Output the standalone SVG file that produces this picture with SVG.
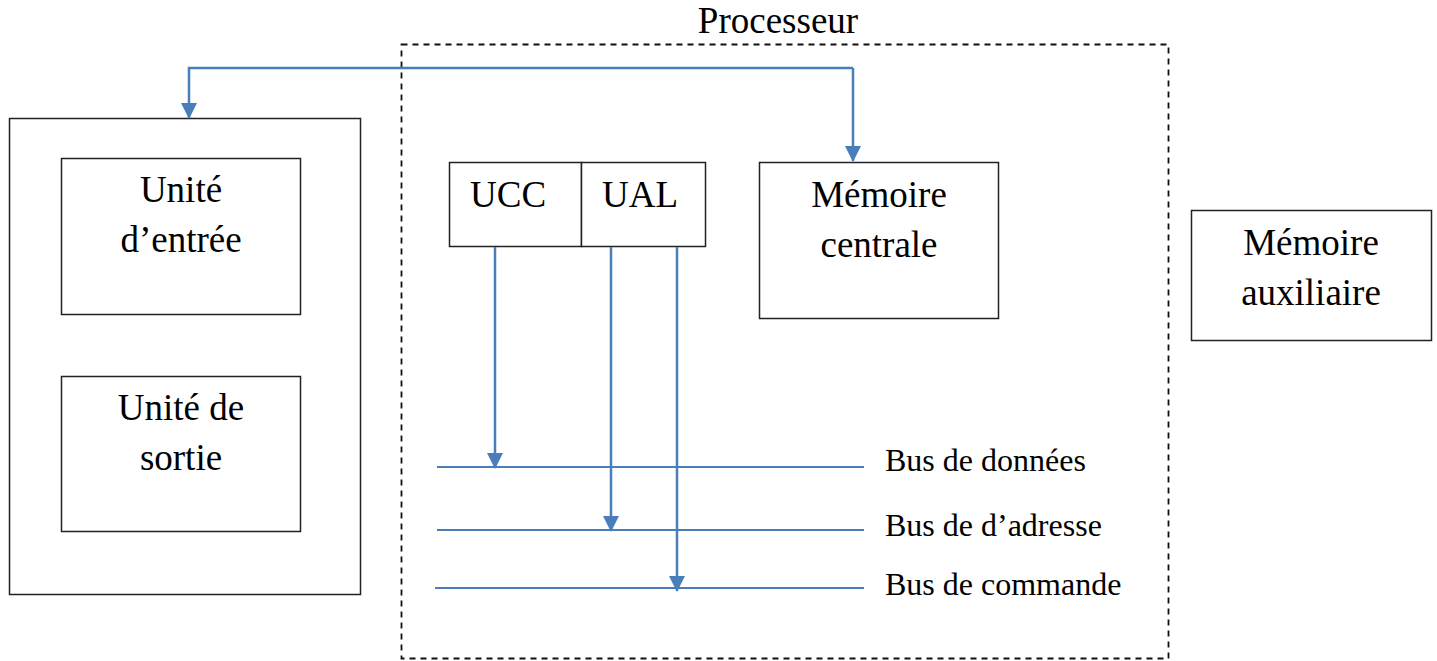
<svg xmlns="http://www.w3.org/2000/svg" width="1437" height="661" viewBox="0 0 1437 661">
<style>
.box{fill:#fff;stroke:#222;stroke-width:1.5}
.t{font-family:"Liberation Serif","Times New Roman",serif;font-size:37px;fill:#000}
.tc{text-anchor:middle}
.bl{font-family:"Liberation Serif","Times New Roman",serif;font-size:32px;fill:#000}
.c{fill:none;stroke:#4A7EBB;stroke-width:2.5}
.bus{fill:none;stroke:#4A7EBB;stroke-width:2.2}
</style>
<defs>
<marker id="ah" markerUnits="userSpaceOnUse" markerWidth="16" markerHeight="16" viewBox="0 0 16 16" refX="15" refY="8" orient="auto">
<path d="M0,0 L16,8 L0,16 z" fill="#4A7EBB"/>
</marker>
</defs>
<rect width="1437" height="661" fill="#fff"/>
<g id="processeur">
<rect x="401.5" y="44.5" width="767" height="614" fill="none" stroke="#111" stroke-width="1.8" stroke-dasharray="6,5"/>
<text class="t tc" x="778" y="33">Processeur</text>
</g>
<g id="peripheriques">
<rect class="box" x="9.5" y="118.5" width="351" height="476"/>
</g>
<g id="unite-entree">
<rect class="box" x="61.5" y="158.5" width="239" height="156"/>
<text class="t tc" x="181" y="202">Unité</text>
<text class="t tc" x="181" y="252">d’entrée</text>
</g>
<g id="unite-sortie">
<rect class="box" x="61.5" y="376.5" width="239" height="155"/>
<text class="t tc" x="181" y="420">Unité de</text>
<text class="t tc" x="181" y="470">sortie</text>
</g>
<g id="ucc">
<rect class="box" x="449.5" y="162.5" width="132" height="84"/>
<text class="t" x="470" y="207">UCC</text>
</g>
<g id="ual">
<rect class="box" x="581.5" y="162.5" width="124" height="84"/>
<text class="t" x="602" y="207">UAL</text>
</g>
<g id="memoire-centrale">
<rect class="box" x="759.5" y="162.5" width="239" height="156"/>
<text class="t tc" x="879" y="207">Mémoire</text>
<text class="t tc" x="879" y="257">centrale</text>
</g>
<g id="memoire-auxiliaire">
<rect class="box" x="1191.5" y="210.5" width="240" height="130"/>
<text class="t tc" x="1311" y="255">Mémoire</text>
<text class="t tc" x="1311" y="305">auxiliaire</text>
</g>
<g id="bus">
<line class="bus" x1="437" y1="467" x2="864" y2="467"/>
<line class="bus" x1="437" y1="530" x2="864" y2="530"/>
<line class="bus" x1="435" y1="588" x2="864" y2="588"/>
<text class="bl" x="885" y="471">Bus de données</text>
<text class="bl" x="885" y="536">Bus de d’adresse</text>
<text class="bl" x="885" y="595">Bus de commande</text>
</g>
<g id="connectors">
<polyline class="c" points="853,68 189,68 189,118" marker-end="url(#ah)"/>
<line class="c" x1="853" y1="68" x2="853" y2="161" marker-end="url(#ah)"/>
<line class="c" x1="495" y1="247" x2="495" y2="468" marker-end="url(#ah)"/>
<line class="c" x1="611" y1="247" x2="611" y2="531" marker-end="url(#ah)"/>
<line class="c" x1="677" y1="247" x2="677" y2="591" marker-end="url(#ah)"/>
</g>
</svg>
